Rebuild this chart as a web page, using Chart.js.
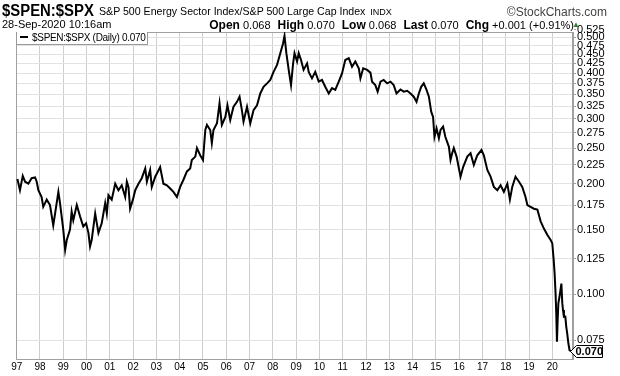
<!DOCTYPE html>
<html><head><meta charset="utf-8">
<script src="https://cdn.jsdelivr.net/npm/chart.js@4/dist/chart.umd.min.js"></script>
<style>
html,body{margin:0;padding:0;background:#fff;}
#wrap{position:relative;width:620px;height:376px;overflow:hidden;font-family:"Liberation Sans",Arial,sans-serif;color:#000;}
#c{position:absolute;left:0;top:0;}
.t{position:absolute;white-space:nowrap;line-height:1;}
#legend{position:absolute;left:16px;top:32px;height:12px;background:#fff;border:1px solid #999;border-top:none;font-size:10px;line-height:12px;padding:0 2px 0 3px;white-space:nowrap;letter-spacing:-0.3px;}
#legend .dash{display:inline-block;width:8px;height:2px;background:#000;vertical-align:middle;margin-right:4px;position:relative;top:-1px;}
.g{margin-left:7px;}
.k{font-size:12px;font-weight:bold;}
</style></head><body>
<div id="wrap">
<canvas id="c" width="620" height="376"></canvas>
<div class="t" style="left:2px;top:3px;font-size:16px;font-weight:bold;transform:scaleX(0.93);transform-origin:left top;">$SPEN:$SPX</div>
<div class="t" style="left:99px;top:6px;font-size:10.6px;">S&amp;P 500 Energy Sector Index/S&amp;P 500 Large Cap Index <span style="font-size:9px;margin-left:2px;">INDX</span></div>
<div class="t" style="right:13px;top:6px;font-size:12px;color:#444;">©StockCharts.com</div>
<div class="t" style="left:2px;top:19px;font-size:11px;">28-Sep-2020 10:16am</div>
<div class="t" style="right:46px;top:19px;font-size:11px;"><span class="k">Open</span> 0.068<span class="g"></span><span class="k">High</span> 0.070<span class="g"></span><span class="k">Low</span> 0.068<span class="g"></span><span class="k">Last</span> 0.070<span class="g"></span><span class="k">Chg</span> +0.001 (+0.91%)</div>
<div class="t" style="left:572px;top:21px;font-size:8px;color:#2e7d32;">▲</div>
<div id="legend"><span class="dash"></span>$SPEN:$SPX (Daily) 0.070</div>
</div>
<script>
// Data (decimal year, ratio)
const years = [
1997.03,1997.14,1997.26,1997.36,1997.50,1997.64,1997.79,1997.86,1997.93,
1998.07,1998.14,1998.29,1998.43,1998.57,1998.65,1998.79,1998.86,
1999.00,1999.08,1999.15,1999.29,1999.36,1999.43,1999.58,1999.72,1999.86,1999.98,
2000.08,2000.15,2000.22,2000.37,2000.51,2000.65,2000.80,2000.87,2000.94,
2001.08,2001.23,2001.37,2001.51,2001.66,2001.73,2001.80,2001.87,2001.99,
2002.09,2002.23,2002.37,2002.52,2002.59,2002.73,2002.80,2002.95,
2003.16,2003.30,2003.45,2003.59,2003.73,2003.88,
2004.02,2004.16,2004.31,2004.45,2004.52,2004.67,2004.74,2004.88,
2005.00,2005.10,2005.17,2005.31,2005.38,2005.45,2005.60,2005.71,2005.81,2005.96,
2006.05,2006.17,2006.31,2006.46,2006.57,2006.67,2006.74,2006.89,
2007.03,2007.17,2007.32,2007.46,2007.60,2007.75,2007.89,
2008.03,2008.18,2008.32,2008.44,2008.50,2008.58,2008.68,2008.78,2008.87,2008.93,
2009.04,2009.11,2009.21,2009.32,2009.47,2009.54,2009.68,2009.82,2009.97,
2010.11,2010.25,2010.40,2010.54,2010.68,2010.83,2010.97,
2011.11,2011.26,2011.40,2011.54,2011.69,2011.76,2011.88,
2012.05,2012.19,2012.26,2012.40,2012.50,2012.62,2012.76,2012.91,
2013.05,2013.19,2013.31,2013.48,2013.62,2013.77,2013.91,
2014.05,2014.17,2014.27,2014.37,2014.48,2014.60,2014.70,2014.80,2014.88,2014.94,
2015.03,2015.13,2015.20,2015.31,2015.41,2015.56,2015.63,2015.70,2015.77,2015.89,2015.99,
2016.06,2016.17,2016.35,2016.49,2016.63,2016.78,2016.96,
2017.06,2017.21,2017.35,2017.49,2017.64,2017.78,2017.92,
2018.07,2018.18,2018.28,2018.42,2018.57,2018.71,2018.85,2018.93,
2019.07,2019.21,2019.36,2019.50,2019.64,2019.79,2019.93,
2020.00,2020.06,2020.10,2020.14,2020.17,2020.20,2020.23,2020.26,2020.31,2020.39,
2020.43,2020.46,2020.50,2020.56,2020.60,2020.64,2020.69,2020.74,2020.80
];
const ratio = [
0.206,0.192,0.210,0.2025,0.200,0.207,0.208,0.2025,0.192,
0.184,0.173,0.181,0.175,0.154,0.166,0.190,0.177,
0.150,0.132,0.1405,0.150,0.168,0.159,0.175,0.163,0.153,0.156,
0.147,0.135,0.1405,0.166,0.147,0.156,0.177,0.166,0.186,
0.181,0.200,0.192,0.198,0.184,0.2025,0.196,0.171,0.181,
0.192,0.200,0.207,0.220,0.2025,0.218,0.196,0.209,
0.222,0.200,0.198,0.194,0.190,0.184,
0.196,0.205,0.216,0.220,0.232,0.237,0.250,0.239,
0.232,0.280,0.289,0.280,0.258,0.280,0.292,0.331,0.289,0.304,
0.327,0.298,0.324,0.334,0.345,0.317,0.295,0.324,
0.292,0.317,0.327,0.352,0.367,0.375,0.383,
0.403,0.421,0.453,0.482,0.505,0.453,0.408,0.371,0.425,0.453,
0.430,0.453,0.434,0.408,0.425,0.403,0.387,0.403,0.379,
0.383,0.367,0.352,0.364,0.360,0.379,0.399,
0.434,0.439,0.416,0.430,0.412,0.387,0.412,
0.408,0.401,0.379,0.371,0.356,0.379,0.383,0.375,
0.379,0.371,0.352,0.361,0.356,0.358,0.352,
0.345,0.334,0.352,0.367,0.375,0.360,0.345,0.314,0.304,0.268,
0.283,0.266,0.280,0.286,0.268,0.252,0.232,0.242,0.250,0.237,0.220,
0.209,0.222,0.237,0.242,0.225,0.239,0.247,
0.239,0.218,0.209,0.196,0.192,0.198,0.190,
0.200,0.181,0.196,0.209,0.2025,0.196,0.184,0.175,
0.173,0.171,0.170,0.158,0.151,0.145,0.1405,
0.1376,0.124,0.114,0.1006,0.0888,0.0743,0.0851,0.0945,0.0985,0.107,
0.0945,0.0906,0.0869,0.087,0.0816,0.0783,0.0736,0.0705,0.070
];
const yTickValues = [0.075,0.100,0.125,0.150,0.175,0.200,0.225,0.250,0.275,0.300,0.325,0.350,0.375,0.400,0.425,0.450,0.475,0.500,0.525];
const xTickYears = [1997,1998,1999,2000,2001,2002,2003,2004,2005,2006,2007,2008,2009,2010,2011,2012,2013,2014,2015,2016,2017,2018,2019,2020];
const xTickLabels = ['97','98','99','00','01','02','03','04','05','06','07','08','09','10','11','12','13','14','15','16','17','18','19','20'];

const Y_MIN = 0.0667, Y_MAX = 0.5173;
const FONT = '"Liberation Sans", Arial, sans-serif';

const framePlugin = {
  id: 'frame',
  beforeDatasetsDraw(chart) {
    const a = chart.chartArea, ctx = chart.ctx;
    ctx.save();
    ctx.strokeStyle = '#a0a0a0';
    ctx.lineWidth = 1;
    ctx.strokeRect(Math.round(a.left) + 0.5, Math.round(a.top) + 0.5, Math.round(a.right - a.left) - 1, Math.round(a.bottom - a.top));
    ctx.restore();
  },
  afterDraw(chart) {
    const a = chart.chartArea, ctx = chart.ctx, ys = chart.scales.y;
    const last = ratio[ratio.length - 1];
    const y = Math.round(ys.getPixelForValue(last)) + 0.5;
    const x0 = a.right - 2.5;
    ctx.save();
    ctx.beginPath();
    ctx.moveTo(x0, y);
    ctx.lineTo(x0 + 6, y - 6);
    ctx.lineTo(x0 + 32, y - 6);
    ctx.lineTo(x0 + 32, y + 6);
    ctx.lineTo(x0 + 6, y + 6);
    ctx.closePath();
    ctx.fillStyle = '#fff';
    ctx.fill();
    ctx.strokeStyle = '#000';
    ctx.lineWidth = 1;
    ctx.stroke();
    ctx.fillStyle = '#000';
    ctx.font = 'bold 11px ' + FONT;
    ctx.textBaseline = 'middle';
    ctx.textAlign = 'left';
    ctx.fillText(last.toFixed(3), x0 + 5, y + 0.5);
    ctx.restore();
  }
};

new Chart(document.getElementById('c'), {
  type: 'line',
  data: {
    datasets: [{
      data: years.map((x, i) => ({ x: x, y: ratio[i] })),
      borderColor: '#000',
      borderWidth: 2,
      pointRadius: 0,
      tension: 0,
      fill: false
    }]
  },
  options: {
    responsive: false,
    animation: false,
    devicePixelRatio: 1,
    layout: { padding: { top: 32, left: 16, right: 0, bottom: 0 } },
    plugins: { legend: { display: false }, tooltip: { enabled: false } },
    scales: {
      x: {
        type: 'linear',
        min: 1996.97,
        max: 2020.889,
        afterBuildTicks: s => { s.ticks = xTickYears.map(v => ({ value: v })); },
        afterFit: s => { s.height = 17; },
        ticks: {
          autoSkip: false, maxRotation: 0, padding: 2, color: '#000',
          font: { family: FONT, size: 10 },
          callback: v => xTickLabels[xTickYears.indexOf(v)]
        },
        grid: { color: '#cdcdcd', drawTicks: false },
        border: { color: '#a0a0a0' }
      },
      y: {
        type: 'logarithmic',
        position: 'right',
        min: Y_MIN,
        max: Y_MAX,
        afterBuildTicks: s => { s.ticks = yTickValues.map(v => ({ value: v })); },
        afterFit: s => { s.width = 47; },
        ticks: {
          autoSkip: false, padding: 1, color: '#000',
          font: { family: FONT, size: 11 },
          callback: v => Number(v).toFixed(3)
        },
        grid: {
          color: ctx => (ctx.tick && ctx.tick.value > Y_MAX) ? 'rgba(0,0,0,0)' : '#e2e2e2',
          tickColor: '#a0a0a0',
          tickLength: 3
        },
        border: { color: '#a0a0a0' }
      }
    }
  },
  plugins: [framePlugin]
});
</script>
</body></html>
